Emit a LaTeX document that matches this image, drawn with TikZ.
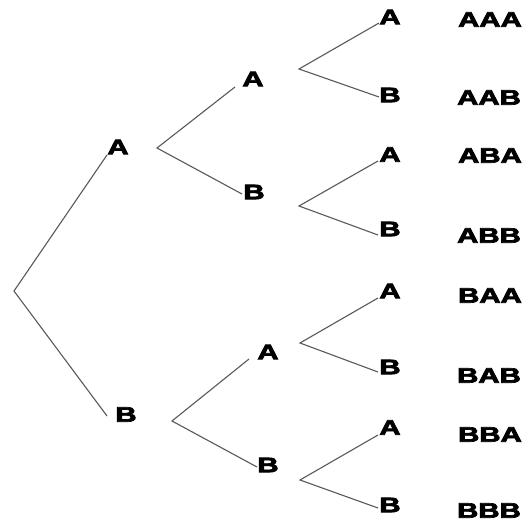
\documentclass[tikz,border=0pt]{standalone}
\usepackage{fontspec}
\newfontfamily\lbl{Liberation Sans Bold}[FakeBold=3]
\begin{document}
\begin{tikzpicture}[x=1pt,y=-1pt,
  branch/.style={draw=black!65,line width=1.1pt},
  lab/.style={inner sep=0pt,font=\lbl\fontsize{21}{21}\selectfont}]
\path[use as bounding box,fill=white] (0,0) rectangle (522,523);
\newcommand\wide[1]{\scalebox{1.4}[1]{#1}}
% outcome labels
\node[lab] (A)   at (118,147)   {\wide{A}};
\node[lab] (B)   at (126,414.5) {\wide{B}};
\node[lab] (AA)  at (253,79)    {\wide{A}};
\node[lab] (AB)  at (254,192)   {\wide{B}};
\node[lab] (BA)  at (268,352)   {\wide{A}};
\node[lab] (BB)  at (268,465)   {\wide{B}};
\node[lab] (AAA) at (390,17)    {\wide{A}};
\node[lab] (AAB) at (390,95)    {\wide{B}};
\node[lab] (ABA) at (390,154.5) {\wide{A}};
\node[lab] (ABB) at (390,229)   {\wide{B}};
\node[lab] (BAA) at (390,291)   {\wide{A}};
\node[lab] (BAB) at (390,367)   {\wide{B}};
\node[lab] (BBA) at (390,427.5) {\wide{A}};
\node[lab] (BBB) at (390,505)   {\wide{B}};
% final sequences
\node[lab] (sAAA) at (490,19.5)  {\wide{AAA}};
\node[lab] (sAAB) at (489,97.5)  {\wide{AAB}};
\node[lab] (sABA) at (490,155.5) {\wide{ABA}};
\node[lab] (sABB) at (489,235.5) {\wide{ABB}};
\node[lab] (sBAA) at (490,295.5) {\wide{BAA}};
\node[lab] (sBAB) at (489,375.5) {\wide{BAB}};
\node[lab] (sBBA) at (490,434.5) {\wide{BBA}};
\node[lab] (sBBB) at (489,510.5) {\wide{BBB}};
% branching points
\coordinate (r)   at (14,291);
\coordinate (vA)  at (157,148);
\coordinate (vB)  at (172,421);
\coordinate (vAA) at (299,69);
\coordinate (vAB) at (299,206);
\coordinate (vBA) at (300,343);
\coordinate (vBB) at (300,480);
% branch ends
\coordinate (eA)   at (107,155);
\coordinate (eB)   at (107,416);
\coordinate (eAA)  at (235,87);
\coordinate (eAB)  at (242,194);
\coordinate (eBA)  at (249,359);
\coordinate (eBB)  at (257,467);
\coordinate (eAAA) at (379,23);
\coordinate (eAAB) at (379,97);
\coordinate (eABA) at (378,161);
\coordinate (eABB) at (378,235);
\coordinate (eBAA) at (378,298);
\coordinate (eBAB) at (378,372);
\coordinate (eBBA) at (378,435);
\coordinate (eBBB) at (378,508);
% branches
\draw[branch] (eA) -- (r) -- (eB);
\draw[branch] (eAA) -- (vA) -- (eAB);
\draw[branch] (eBA) -- (vB) -- (eBB);
\draw[branch] (eAAA) -- (vAA) -- (eAAB);
\draw[branch] (eABA) -- (vAB) -- (eABB);
\draw[branch] (eBAA) -- (vBA) -- (eBAB);
\draw[branch] (eBBA) -- (vBB) -- (eBBB);
\end{tikzpicture}
\end{document}
